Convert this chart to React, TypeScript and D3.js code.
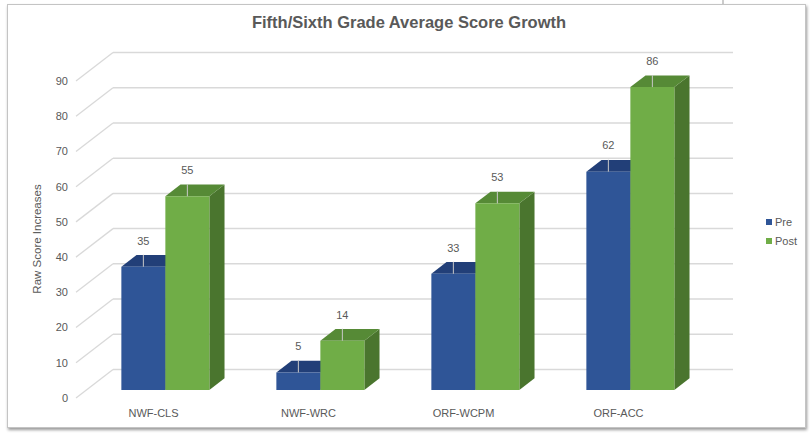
import React from 'react';
import * as d3 from 'd3';

const categories = ['NWF-CLS', 'NWF-WRC', 'ORF-WCPM', 'ORF-ACC'];
const preValues = [35, 5, 33, 62];
const postValues = [55, 14, 53, 86];
const seriesNames = ['Pre', 'Post'];
const yTicks = [0, 10, 20, 30, 40, 50, 60, 70, 80, 90];

const W = 812;
const H = 433;

// oblique "3D" projection: depth d in [0,1] moves right and up
const DEPTH_X = 37;
const DEPTH_Y = 28.5;
const BAR_D0 = 0.28;
const BAR_D1 = 0.69;
const BAR_W = 44;
const BAR_OFFSET = 35; // from band start, in front plane

const colors = {
  Pre: { front: '#2F5597', top: '#223F78', side: '#1D3563' },
  Post: { front: '#70AD47', top: '#568A36', side: '#4A752E' },
};

const App: React.FC = () => {
  const x = d3.scaleBand<string>().domain(categories).range([76, 696]).padding(0);
  const y = d3.scaleLinear().domain([0, 90]).range([398, 81]);

  const proj = (px: number, v: number, d: number): [number, number] => [px + d * DEPTH_X, y(v) - d * DEPTH_Y];

  const bars: { cat: string; s: string; v: number; i: number }[] = [];
  categories.forEach((c, ci) => {
    bars.push({ cat: c, s: 'Pre', v: preValues[ci], i: 0 });
    bars.push({ cat: c, s: 'Post', v: postValues[ci], i: 1 });
  });

  const gridColor = '#D9D9D9';
  const textColor = '#595959';
  const font = 'Liberation Sans, Arial, sans-serif';

  return (
    <svg width={W} height={H} style={{ position: 'absolute', left: 0, top: 0 }} fontFamily={font}>
      <defs>
        <filter id="shadow" x="-5%" y="-5%" width="110%" height="115%">
          <feDropShadow dx="1" dy="2" stdDeviation="1.5" floodColor="#000" floodOpacity="0.4" />
        </filter>
      </defs>
      <rect x={0} y={0} width={W} height={H} fill="#fff" />
      <line x1={723} x2={723} y1={0} y2={5} stroke="#999" strokeWidth={1} />
      <rect x={7.5} y={4.5} width={798} height={423} fill="#fff" stroke="#C4C4C4" strokeWidth={1} filter="url(#shadow)" />

      <text x={409} y={28} textAnchor="middle" fontSize={16.5} fontWeight="bold" fill={textColor}>
        Fifth/Sixth Grade Average Score Growth
      </text>

      {/* back wall gridlines + left wall diagonals */}
      {yTicks.map((t) => {
        const [fx, fy] = proj(76, t, 0);
        const [bx, by] = proj(76, t, 1);
        return (
          <g key={t}>
            <line x1={fx} y1={fy} x2={bx} y2={by} stroke={gridColor} strokeWidth={1.3} />
            <line x1={bx} y1={by} x2={733} y2={by} stroke={gridColor} strokeWidth={1.5} />
            <text x={68} y={fy} dy="0.35em" textAnchor="end" fontSize={11} fill={textColor}>
              {t}
            </text>
          </g>
        );
      })}

      <text
        transform="translate(41,239) rotate(-90)"
        textAnchor="middle"
        fontSize={11.5}
        fill={textColor}
      >
        Raw Score Increases
      </text>

      {/* bars */}
      {bars.map((b) => {
        const x0 = (x(b.cat) || 0) + BAR_OFFSET + b.i * BAR_W;
        const c = colors[b.s as 'Pre' | 'Post'];
        const fTL = proj(x0, b.v, BAR_D0);
        const fTR = proj(x0 + BAR_W, b.v, BAR_D0);
        const fBR = proj(x0 + BAR_W, 0, BAR_D0);
        const fBL = proj(x0, 0, BAR_D0);
        const bTL = proj(x0, b.v, BAR_D1);
        const bTR = proj(x0 + BAR_W, b.v, BAR_D1);
        const bBR = proj(x0 + BAR_W, 0, BAR_D1);
        const pts = (a: [number, number][]) => a.map((p) => p.join(',')).join(' ');
        const cx = (fTL[0] + fTR[0]) / 2;
        return (
          <g key={b.cat + b.s}>
            <polygon points={pts([fTR, bTR, bBR, fBR])} fill={c.side} />
            <polygon points={pts([fTL, fTR, bTR, bTL])} fill={c.top} />
            <polygon points={pts([fTL, fTR, fBR, fBL])} fill={c.front} />
            <line x1={cx} x2={cx} y1={fTL[1] - 12} y2={fTL[1]} stroke="#C9C9C9" strokeWidth={1} />
            <text x={cx} y={fTL[1] - 26} dy="0.35em" textAnchor="middle" fontSize={11} fill={textColor}>
              {b.v}
            </text>
          </g>
        );
      })}

      {/* category labels */}
      {categories.map((c) => (
        <text key={c} x={(x(c) || 0) + x.bandwidth() / 2} y={413} dy="0.35em" textAnchor="middle" fontSize={11} fill={textColor}>
          {c}
        </text>
      ))}

      {/* legend */}
      {seriesNames.map((s, i) => (
        <g key={s} transform={`translate(766,${222 + i * 19})`}>
          <rect x={0} y={-3} width={6} height={6} fill={colors[s as 'Pre' | 'Post'].front} />
          <text x={9} y={0} dy="0.35em" fontSize={11} fill={textColor}>
            {s}
          </text>
        </g>
      ))}
    </svg>
  );
};

export default App;
